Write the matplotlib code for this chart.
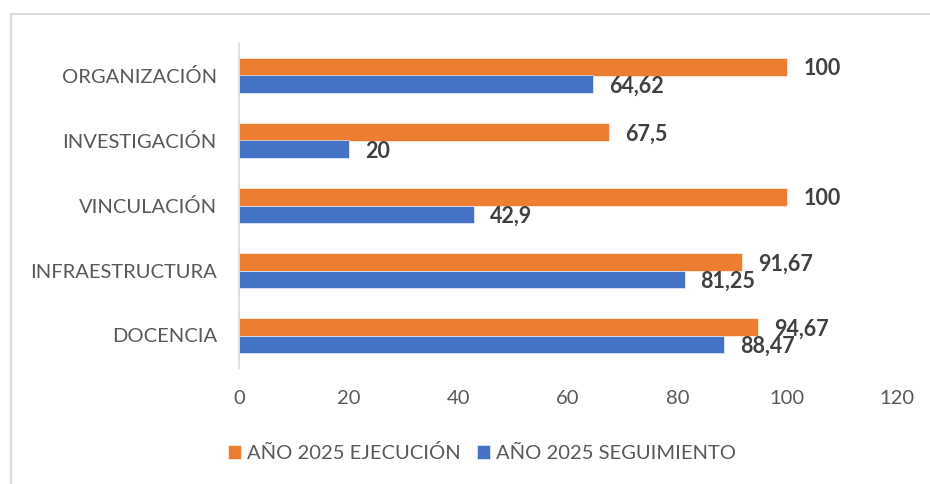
import matplotlib.pyplot as plt
from matplotlib.lines import Line2D
import numpy as np

categorias = ["DOCENCIA", "INFRAESTRUCTURA", "VINCULACIÓN", "INVESTIGACIÓN", "ORGANIZACIÓN"]
ejecucion = [94.67, 91.67, 100, 67.5, 100]
seguimiento = [88.47, 81.25, 42.9, 20, 64.62]
etiquetas_ejec = ["94,67", "91,67", "100", "67,5", "100"]
etiquetas_seg = ["88,47", "81,25", "42,9", "20", "64,62"]
xticks = [0, 20, 40, 60, 80, 100, 120]

plt.rcParams['font.family'] = ['Lato', 'DejaVu Sans']

naranja = '#ED7D31'
azul = '#4472C4'
gris = '#595959'

fig = plt.figure(figsize=(9.3, 4.84), dpi=100)
ax = fig.add_axes([239 / 930, 1 - 368 / 484, (897 - 239) / 930, (368 - 43) / 484])

y = np.arange(len(categorias))
h = 0.265
b1 = ax.barh(y + h / 2, ejecucion, height=h, color=naranja, edgecolor='white', linewidth=0.4,
             label='AÑO 2025 EJECUCIÓN')
b2 = ax.barh(y - h / 2, seguimiento, height=h, color=azul, edgecolor='white', linewidth=0.4,
             label='AÑO 2025 SEGUIMIENTO')

for rect, txt in zip(b1, etiquetas_ejec):
    ax.annotate(txt, (rect.get_width(), rect.get_y() + rect.get_height() / 2),
                xytext=(11.5, -1.5), textcoords='offset points', ha='left', va='center',
                fontsize=15.5, fontweight='bold', color='#404040')
for rect, txt in zip(b2, etiquetas_seg):
    ax.annotate(txt, (rect.get_width(), rect.get_y() + rect.get_height() / 2),
                xytext=(11.5, -1.5), textcoords='offset points', ha='left', va='center',
                fontsize=15.5, fontweight='bold', color='#404040')

ax.set_xlim(0, 120)
ax.set_ylim(-0.5, len(categorias) - 0.5)
ax.set_xticks(xticks)
ax.set_yticks(y)
ax.set_yticklabels(categorias)
ax.tick_params(axis='both', length=0, labelsize=14.5, colors=gris)
ax.tick_params(axis='x', pad=16)
ax.tick_params(axis='y', pad=16)
for s in ['top', 'right', 'bottom']:
    ax.spines[s].set_visible(False)
ax.spines['left'].set_color('#d9d9d9')
ax.spines['left'].set_linewidth(1.2)

handles, labels = ax.get_legend_handles_labels()
fig.legend(handles, labels, loc='center', bbox_to_anchor=(482 / 930, 1 - 453 / 484), ncol=2,
           frameon=False, fontsize=14.5, labelcolor=gris, handlelength=0.65, handleheight=0.65,
           handletextpad=0.3, columnspacing=0.8)

# marco del area del grafico
fig.add_artist(Line2D([11 / 930, 11 / 930], [0, 1 - 14 / 484], transform=fig.transFigure,
                      color='#d9d9d9', linewidth=1.5))
fig.add_artist(Line2D([11 / 930, 1], [1 - 14 / 484, 1 - 14 / 484], transform=fig.transFigure,
                      color='#d9d9d9', linewidth=1.5))

fig.savefig('out.png', dpi=100)
